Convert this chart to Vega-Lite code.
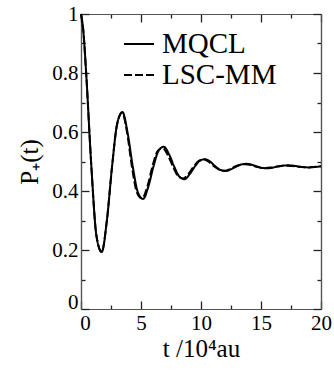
{
  "$schema": "https://vega.github.io/schema/vega-lite/v6.json",
  "width": 240,
  "height": 295,
  "autosize": "none",
  "padding": {"left": 81, "top": 14, "right": 13, "bottom": 66},
  "view": {"stroke": null},
  "data": {"values": [
    {"model": "MQCL", "t": 0, "p": 1.0},
    {"model": "MQCL", "t": 0.2, "p": 0.94},
    {"model": "MQCL", "t": 0.431, "p": 0.799},
    {"model": "MQCL", "t": 0.863, "p": 0.483},
    {"model": "MQCL", "t": 1.294, "p": 0.246},
    {"model": "MQCL", "t": 1.725, "p": 0.193},
    {"model": "MQCL", "t": 2.156, "p": 0.3},
    {"model": "MQCL", "t": 2.588, "p": 0.483},
    {"model": "MQCL", "t": 3.019, "p": 0.629},
    {"model": "MQCL", "t": 3.45, "p": 0.668},
    {"model": "MQCL", "t": 3.881, "p": 0.598},
    {"model": "MQCL", "t": 4.313, "p": 0.483},
    {"model": "MQCL", "t": 4.744, "p": 0.395},
    {"model": "MQCL", "t": 5.175, "p": 0.373},
    {"model": "MQCL", "t": 5.606, "p": 0.414},
    {"model": "MQCL", "t": 6.038, "p": 0.483},
    {"model": "MQCL", "t": 6.469, "p": 0.537},
    {"model": "MQCL", "t": 6.9, "p": 0.55},
    {"model": "MQCL", "t": 7.331, "p": 0.525},
    {"model": "MQCL", "t": 7.763, "p": 0.483},
    {"model": "MQCL", "t": 8.194, "p": 0.449},
    {"model": "MQCL", "t": 8.625, "p": 0.44},
    {"model": "MQCL", "t": 9.056, "p": 0.457},
    {"model": "MQCL", "t": 9.488, "p": 0.483},
    {"model": "MQCL", "t": 9.919, "p": 0.503},
    {"model": "MQCL", "t": 10.35, "p": 0.508},
    {"model": "MQCL", "t": 10.78, "p": 0.499},
    {"model": "MQCL", "t": 11.21, "p": 0.483},
    {"model": "MQCL", "t": 11.64, "p": 0.471},
    {"model": "MQCL", "t": 12.08, "p": 0.468},
    {"model": "MQCL", "t": 12.51, "p": 0.474},
    {"model": "MQCL", "t": 12.94, "p": 0.483},
    {"model": "MQCL", "t": 13.37, "p": 0.49},
    {"model": "MQCL", "t": 13.8, "p": 0.492},
    {"model": "MQCL", "t": 14.23, "p": 0.489},
    {"model": "MQCL", "t": 14.66, "p": 0.483},
    {"model": "MQCL", "t": 15.09, "p": 0.478},
    {"model": "MQCL", "t": 15.53, "p": 0.477},
    {"model": "MQCL", "t": 15.96, "p": 0.479},
    {"model": "MQCL", "t": 16.39, "p": 0.483},
    {"model": "MQCL", "t": 16.82, "p": 0.486},
    {"model": "MQCL", "t": 17.25, "p": 0.487},
    {"model": "MQCL", "t": 17.68, "p": 0.486},
    {"model": "MQCL", "t": 18.11, "p": 0.483},
    {"model": "MQCL", "t": 18.54, "p": 0.481},
    {"model": "MQCL", "t": 18.98, "p": 0.48},
    {"model": "MQCL", "t": 19.41, "p": 0.481},
    {"model": "MQCL", "t": 19.84, "p": 0.483},
    {"model": "MQCL", "t": 20, "p": 0.484},
    {"model": "LSC-MM", "t": 0, "p": 1.0},
    {"model": "LSC-MM", "t": 0.2, "p": 0.94},
    {"model": "LSC-MM", "t": 0.431, "p": 0.799},
    {"model": "LSC-MM", "t": 0.863, "p": 0.483},
    {"model": "LSC-MM", "t": 1.294, "p": 0.246},
    {"model": "LSC-MM", "t": 1.725, "p": 0.194},
    {"model": "LSC-MM", "t": 2.156, "p": 0.3},
    {"model": "LSC-MM", "t": 2.588, "p": 0.483},
    {"model": "LSC-MM", "t": 3.019, "p": 0.628},
    {"model": "LSC-MM", "t": 3.43, "p": 0.665},
    {"model": "LSC-MM", "t": 3.84, "p": 0.598},
    {"model": "LSC-MM", "t": 4.24, "p": 0.483},
    {"model": "LSC-MM", "t": 4.66, "p": 0.395},
    {"model": "LSC-MM", "t": 5.09, "p": 0.375},
    {"model": "LSC-MM", "t": 5.52, "p": 0.414},
    {"model": "LSC-MM", "t": 5.95, "p": 0.483},
    {"model": "LSC-MM", "t": 6.38, "p": 0.535},
    {"model": "LSC-MM", "t": 6.8, "p": 0.546},
    {"model": "LSC-MM", "t": 7.23, "p": 0.522},
    {"model": "LSC-MM", "t": 7.66, "p": 0.483},
    {"model": "LSC-MM", "t": 8.09, "p": 0.45},
    {"model": "LSC-MM", "t": 8.52, "p": 0.442},
    {"model": "LSC-MM", "t": 8.95, "p": 0.458},
    {"model": "LSC-MM", "t": 9.39, "p": 0.483},
    {"model": "LSC-MM", "t": 9.82, "p": 0.502},
    {"model": "LSC-MM", "t": 10.25, "p": 0.507},
    {"model": "LSC-MM", "t": 10.68, "p": 0.498},
    {"model": "LSC-MM", "t": 11.11, "p": 0.483},
    {"model": "LSC-MM", "t": 11.54, "p": 0.472},
    {"model": "LSC-MM", "t": 11.98, "p": 0.469},
    {"model": "LSC-MM", "t": 12.41, "p": 0.474},
    {"model": "LSC-MM", "t": 12.84, "p": 0.483},
    {"model": "LSC-MM", "t": 13.27, "p": 0.489},
    {"model": "LSC-MM", "t": 13.7, "p": 0.491},
    {"model": "LSC-MM", "t": 14.13, "p": 0.488},
    {"model": "LSC-MM", "t": 14.56, "p": 0.483},
    {"model": "LSC-MM", "t": 14.99, "p": 0.479},
    {"model": "LSC-MM", "t": 15.43, "p": 0.478},
    {"model": "LSC-MM", "t": 15.86, "p": 0.48},
    {"model": "LSC-MM", "t": 16.29, "p": 0.483},
    {"model": "LSC-MM", "t": 16.72, "p": 0.485},
    {"model": "LSC-MM", "t": 17.15, "p": 0.486},
    {"model": "LSC-MM", "t": 17.58, "p": 0.485},
    {"model": "LSC-MM", "t": 18.01, "p": 0.483},
    {"model": "LSC-MM", "t": 18.44, "p": 0.481},
    {"model": "LSC-MM", "t": 18.88, "p": 0.48},
    {"model": "LSC-MM", "t": 19.31, "p": 0.481},
    {"model": "LSC-MM", "t": 19.74, "p": 0.483},
    {"model": "LSC-MM", "t": 20, "p": 0.484}
  ]},
  "layer": [
    {
      "mark": {"type": "line", "color": "black", "strokeWidth": 2, "interpolate": "monotone"},
      "encoding": {
        "x": {
          "field": "t", "type": "quantitative",
          "scale": {"domain": [0, 20], "nice": false},
          "axis": {
            "orient": "bottom",
            "values": [0, 5, 10, 15, 20],
            "format": "~g",
            "tickSize": -8, "tickColor": "#222", "tickWidth": 1.3,
            "domainColor": "#555", "domainWidth": 1.2, "grid": false,
            "labelFont": "Liberation Serif", "labelFontSize": 21, "labelColor": "black",
            "labelPadding": 11,
            "labelOffset": {"condition": {"test": "datum.value === 0", "value": 4}, "value": 0},
            "labelFlush": false, "labelOverlap": false,
            "title": "t /10⁴au", "titleFont": "Liberation Serif", "titleFontSize": 25,
            "titleFontWeight": "normal", "titleColor": "black", "titlePadding": 3
          }
        },
        "y": {
          "field": "p", "type": "quantitative",
          "scale": {"domain": [0, 1], "nice": false},
          "axis": {
            "orient": "left",
            "values": [0, 0.2, 0.4, 0.6, 0.8, 1],
            "format": "~g",
            "tickSize": -8, "tickColor": "#222", "tickWidth": 1.3,
            "domainColor": "#555", "domainWidth": 1.2, "grid": false,
            "labelFont": "Liberation Serif", "labelFontSize": 21, "labelColor": "black",
            "labelPadding": 11,
            "labelOffset": {"condition": {"test": "datum.value === 0", "value": -7}, "value": 0},
            "labelFlush": false, "labelOverlap": false,
            "title": "P₊(t)", "titleFont": "Liberation Serif", "titleFontSize": 25,
            "titleFontWeight": "normal", "titleColor": "black", "titlePadding": 9
          }
        },
        "strokeDash": {
          "field": "model", "type": "nominal",
          "scale": {"domain": ["MQCL", "LSC-MM"], "range": [[1, 0], [8, 3]]},
          "legend": {
            "orient": "none", "legendX": 42, "legendY": 14, "title": null,
            "symbolType": "stroke", "symbolSize": 900, "symbolStrokeWidth": 2,
            "symbolStrokeColor": "black", "labelFontSize": 29, "labelFont": "Liberation Serif",
            "labelColor": "black", "rowPadding": -3, "labelOffset": 7, "padding": 0
          }
        }
      }
    },
    {
      "mark": {"type": "point", "opacity": 0},
      "encoding": {
        "x": {"field": "t", "type": "quantitative",
          "axis": {"orient": "bottom", "values": [2.5, 7.5, 12.5, 17.5], "labels": false, "tickSize": -4, "tickColor": "#222", "tickWidth": 1.3, "domainColor": "#555", "domainWidth": 1.2, "grid": false, "title": null}},
        "y": {"field": "p", "type": "quantitative",
          "axis": {"orient": "left", "values": [0.1, 0.3, 0.5, 0.7, 0.9], "labels": false, "tickSize": -4, "tickColor": "#222", "tickWidth": 1.3, "domainColor": "#555", "domainWidth": 1.2, "grid": false, "title": null}}
      }
    },
    {
      "mark": {"type": "point", "opacity": 0},
      "encoding": {
        "x": {"field": "t", "type": "quantitative",
          "axis": {"orient": "top", "values": [0, 5, 10, 15, 20], "labels": false, "tickSize": -8, "tickColor": "#222", "tickWidth": 1.3, "domainColor": "#555", "domainWidth": 1.2, "grid": false, "title": null}},
        "y": {"field": "p", "type": "quantitative",
          "axis": {"orient": "right", "values": [0, 0.2, 0.4, 0.6, 0.8, 1], "labels": false, "tickSize": -8, "tickColor": "#222", "tickWidth": 1.3, "domainColor": "#555", "domainWidth": 1.2, "grid": false, "title": null}}
      }
    },
    {
      "mark": {"type": "point", "opacity": 0},
      "encoding": {
        "x": {"field": "t", "type": "quantitative",
          "axis": {"orient": "top", "values": [2.5, 7.5, 12.5, 17.5], "labels": false, "tickSize": -4, "tickColor": "#222", "tickWidth": 1.3, "domainColor": "#555", "domainWidth": 1.2, "grid": false, "title": null}},
        "y": {"field": "p", "type": "quantitative",
          "axis": {"orient": "right", "values": [0.1, 0.3, 0.5, 0.7, 0.9], "labels": false, "tickSize": -4, "tickColor": "#222", "tickWidth": 1.3, "domainColor": "#555", "domainWidth": 1.2, "grid": false, "title": null}}
      }
    }
  ],
  "resolve": {"axis": {"x": "independent", "y": "independent"}}
}
